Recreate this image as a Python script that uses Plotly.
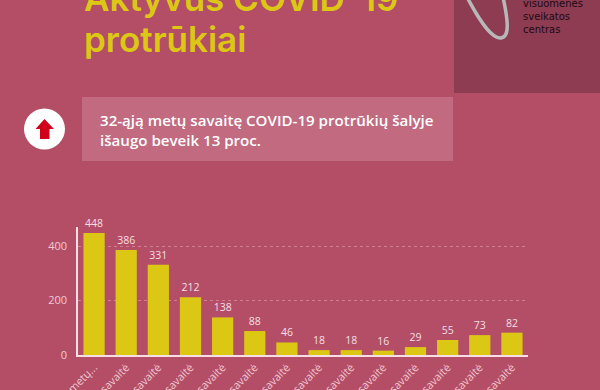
import plotly.graph_objects as go

weeks = ["19-oji metų savaitė","20-oji metų savaitė","21-oji metų savaitė","22-oji metų savaitė","23-oji metų savaitė","24-oji metų savaitė","25-oji metų savaitė","26-oji metų savaitė","27-oji metų savaitė","28-oji metų savaitė","29-oji metų savaitė","30-oji metų savaitė","31-oji metų savaitė","32-oji metų savaitė"]
tick_text = ["19-oji metų..."] + ["%d-oji metų savaitė" % w for w in range(20, 33)]
outbreaks = [448,386,331,212,138,88,46,18,18,16,29,55,73,82]
title_lines = ["Aktyvūs COVID-19", "protrūkiai"]
callout = "32-ąją metų savaitę COVID-19 protrūkių šalyje<br>išaugo beveik 13 proc."
logo_text = "visuomenės<br>sveikatos<br>centras"

W, H = 600, 390
ML, MR, MT, MB = 78, 72, 227, 35
FONT = "Open Sans"
px = lambda v: (v - ML) / (W - ML - MR)
py = lambda v: 1 - (v - MT) / (H - MT - MB)

def rect(x0, y0, x1, y1, color, opacity=1):
    return dict(type="rect", xref="paper", yref="paper", x0=px(x0), x1=px(x1), y0=py(y0), y1=py(y1),
                fillcolor=color, opacity=opacity, line_width=0, layer="below")

fig = go.Figure(go.Bar(x=weeks, y=outbreaks, marker_color="#dcc814", marker_line_width=0,
                       text=outbreaks, textposition="outside", cliponaxis=False,
                       textfont=dict(family=FONT, size=10.5, color="#f6dfe4")))

def path_px(points):
    return "M" + " L".join(f"{px(x):.5f},{py(y):.5f}" for x, y in points)

shapes = [
    rect(454, -5, 605, 93, "#8d3c52"),
    rect(82, 97, 453, 161, "#c16a80"),
    dict(type="circle", xref="paper", yref="paper", x0=px(24), x1=px(65), y0=py(108.5), y1=py(149.5),
         fillcolor="white", line_width=0),
    dict(type="path", xref="paper", yref="paper",
         path=path_px([(44.5,119),(54,129),(49.5,129),(49.5,139),(40,139),(40,129),(35.5,129)]) + " Z",
         fillcolor="#d0021b", line_width=0),
    dict(type="path", xref="paper", yref="paper",
         path="M%.5f,%.5f C%.5f,%.5f %.5f,%.5f %.5f,%.5f C%.5f,%.5f %.5f,%.5f %.5f,%.5f" % (
             px(467), py(-3), px(476), py(14), px(490), py(39), px(501), py(38),
             px(510), py(37), px(508), py(20), px(503), py(-3)),
         line=dict(color="#b8b8b8", width=3.5)),
]

def note(x, y, text, size, color, weight=400, family=FONT):
    fig.add_annotation(xref="paper", yref="paper", x=px(x), y=py(y), text=text, showarrow=False,
                       xanchor="left", yanchor="top", align="left",
                       font=dict(family=family, size=size, color=color, weight=weight))

note(82, -25, title_lines[0], 35, "#dcc814", weight=600, family="Inter")
note(82, 16, title_lines[1], 35, "#dcc814", weight=600, family="Inter")
note(98, 107.5, callout, 15.1, "#ffffff", weight=600)
note(521, -4, logo_text, 10, "#1d0a12", family="DejaVu Sans")

fig.update_layout(
    width=W, height=H, margin=dict(l=ML, r=MR, t=MT, b=MB, autoexpand=False),
    paper_bgcolor="#b44e67", plot_bgcolor="rgba(0,0,0,0)", showlegend=False,
    bargap=0.34, shapes=shapes, font=dict(family=FONT),
    xaxis=dict(tickmode="array", tickvals=weeks, ticktext=tick_text, tickangle=-45, ticks="",
               tickfont=dict(family=FONT, size=11, color="#f0c9d2"), showgrid=False,
               showline=True, linecolor="#f6dfe4", linewidth=1.5, automargin=False),
    yaxis=dict(range=[0, 470], tickvals=[0, 200, 400], tickfont=dict(family=FONT, size=11, color="#f0c9d2"),
               gridcolor="#d27f94", griddash="3px,3px", gridwidth=1, zeroline=False,
               showline=True, linecolor="#f6dfe4", linewidth=1.5, ticks="outside", ticklen=7,
               tickcolor="rgba(0,0,0,0)", automargin=False),
)
fig.write_html("out.html", config={"displayModeBar": False},
               post_script="document.body.style.margin='0';document.body.style.overflow='hidden';")
